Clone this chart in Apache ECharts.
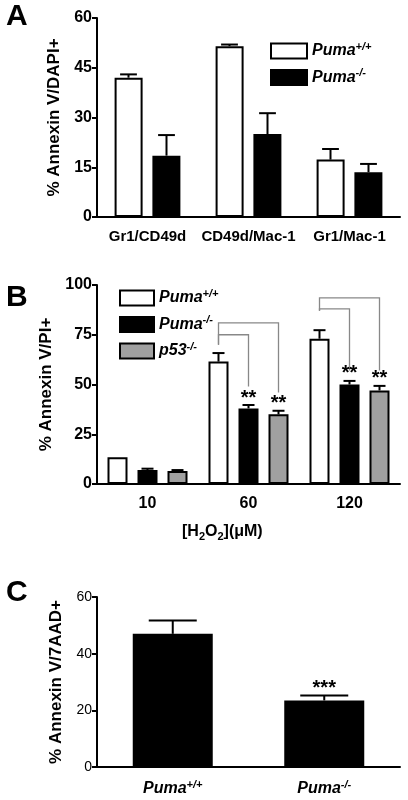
<!DOCTYPE html><html><head><meta charset="utf-8"><script src="https://cdn.jsdelivr.net/npm/echarts@6/dist/echarts.min.js"></script>
<style>body{margin:0;background:#fff}#c{width:408px;height:800px}</style></head><body><div id="c"></div><script>
const catsA=['Gr1/CD49d','CD49d/Mac-1','Gr1/Mac-1'];
const aWT=[42,51.5,17.3], aWTerr=[1,0.5,3.2];
const aKO=[18.5,25,13.5], aKOerr=[6.2,6.3,2.5];
const catsB=['10','60','120'];
const bWT=[13.5,61.5,73], bWTerr=[0,4.3,4.3];
const bKO=[7,38,50], bKOerr=[0.7,1.7,1.8];
const bP53=[6.5,35,47], bP53err=[0.5,1.8,2.3];
const bKOsig=['','**','**'], bP53sig=['','**','**'];
const brGroup=[1,1,2,2], brTo=[2,1,2,1], brLevel=[81,75,93.5,88], brLeftY=[70,70,87,87], brRightY=[46,49,57,57];
const catsC=['Puma+/+','Puma-/-'];
const cVals=[47,23.5], cErr=[4.7,1.7], cSig=['','***'];

const F='Liberation Sans';
const rich={i:{fontStyle:'italic',fontWeight:'bold',fontSize:16,fontFamily:F,color:'#000'},s:{fontStyle:'italic',fontWeight:'bold',fontSize:11,fontFamily:F,verticalAlign:'top',padding:[0,0,9,0],color:'#000'}};
function lab(name){const m=name.match(/^(Puma|p53)(.*)$/);return m?'{i|'+m[1]+'}{s|'+m[2]+'}':name;}
function errSeries(grid,vals,errs,idx,n,bw,gap,sig){
  return {type:'custom',xAxisIndex:grid,yAxisIndex:grid,z:5,
    data:vals.map((v,i)=>[i,v,errs[i]]),
    renderItem:(p,api)=>{const i=api.value(0),v=api.value(1),e=api.value(2),s=sig?sig[i]:'';
      const c=api.coord([i,v]);const x=c[0]+(idx-(n-1)/2)*(bw+gap);const t=api.coord([i,v+e])[1];
      const ch=[];if(e>0){ch.push({type:'line',shape:{x1:x,y1:c[1],x2:x,y2:t},style:{stroke:'#000',lineWidth:2}});
      ch.push({type:'line',shape:{x1:x-bw*0.3,y1:t,x2:x+bw*0.3,y2:t},style:{stroke:'#000',lineWidth:2}});}
      if(s)ch.push({type:'text',style:{text:s,x:x,y:t+3,align:'center',verticalAlign:'bottom',font:'bold 20px '+F,fill:'#000'}});
      return {type:'group',children:ch};}};
}
function yAx(grid,max,intv,name,gapN,bold){return {gridIndex:grid,type:'value',min:0,max:max,interval:intv,name:name,nameLocation:'middle',nameGap:gapN,nameRotate:90,
  nameTextStyle:{fontFamily:F,fontWeight:'bold',fontSize:17,color:'#000'},splitLine:{show:false},
  axisLine:{show:true,lineStyle:{color:'#000',width:2}},axisTick:{show:true,length:5,lineStyle:{color:'#000',width:2}},
  axisLabel:{fontFamily:F,fontWeight:bold?'bold':'normal',fontSize:bold?16:14,color:'#000',margin:5}};}
function xAx(grid,cats,fmt){return {gridIndex:grid,type:'category',data:cats,axisLine:{lineStyle:{color:'#000',width:2}},axisTick:{show:false},
  axisLabel:{fontFamily:F,fontWeight:'bold',fontSize:grid===0?15:16,color:'#000',margin:12,interval:0,formatter:fmt,rich:rich}};}
const bar=(grid,name,data,color,bw,gap)=>({type:'bar',name:name,xAxisIndex:grid,yAxisIndex:grid,data:data,barWidth:bw,barGap:gap,
  itemStyle:{color:color,borderColor:'#000',borderWidth:2}});
const bracket={type:'custom',xAxisIndex:1,yAxisIndex:1,z:4,data:brGroup.map((g,i)=>[g,brLevel[i],brTo[i],brLeftY[i],brRightY[i]]),
  renderItem:(p,api)=>{const g=api.value(0),L=api.value(1),to=api.value(2),ly=api.value(3),ry=api.value(4);
    const xc=api.coord([g,0])[0];const xl=xc-30,xr=xc+(to-1)*30;const yl=api.coord([g,L])[1];
    return {type:'polyline',shape:{points:[[xl,api.coord([g,ly])[1]],[xl,yl],[xr,yl],[xr,api.coord([g,ry])[1]]]},style:{stroke:'#888',lineWidth:1.3,fill:null}};}};
const chart=echarts.init(document.getElementById('c'));
chart.setOption({animation:false,
 grid:[{left:97,top:18,width:303,height:199},{left:97,top:285,width:303,height:199},{left:97,top:597,width:303,height:170}],
 xAxis:[xAx(0,catsA),xAx(1,catsB),xAx(2,catsC,v=>lab(v))],
 yAxis:[yAx(0,60,15,'% Annexin V/DAPI+',34,true),yAx(1,100,25,'% Annexin V/PI+',40,true),yAx(2,60,20,'% Annexin V/7AAD+',32,false)],
 legend:[{left:265,top:36,orient:'vertical',icon:'rect',itemWidth:36,itemHeight:15,itemGap:8,data:['A1','A2'],formatter:n=>n==='A1'?lab('Puma+/+'):lab('Puma-/-'),textStyle:{rich:rich}},
   {left:114,top:283,orient:'vertical',icon:'rect',itemWidth:34,itemHeight:15,itemGap:8,data:['B1','B2','B3'],formatter:n=>({B1:lab('Puma+/+'),B2:lab('Puma-/-'),B3:lab('p53-/-')})[n],textStyle:{rich:rich}}],
 graphic:[{type:'text',left:6,top:2,style:{text:'A',font:'bold 30px '+F,fill:'#000'}},
  {type:'text',left:6,top:283,style:{text:'B',font:'bold 30px '+F,fill:'#000'}},
  {type:'text',left:6,top:578,style:{text:'C',font:'bold 30px '+F,fill:'#000'}},
  {type:'text',left:182,top:524,style:{rich:{a:{font:'bold 16px '+F},b:{font:'bold 11px '+F,verticalAlign:'bottom',padding:[9,0,0,0]}},text:'{a|[H}{b|2}{a|O}{b|2}{a|](μM)}',fill:'#000'}}],
 series:[bar(0,'A1',aWT,'#fff',28,'35%'),bar(0,'A2',aKO,'#000',28,'35%'),
  errSeries(0,aWT,aWTerr,0,2,28,10),errSeries(0,aKO,aKOerr,1,2,28,10),
  bar(1,'B1',bWT,'#fff',20,'50%'),bar(1,'B2',bKO,'#000',20,'50%'),bar(1,'B3',bP53,'#a0a0a0',20,'50%'),
  errSeries(1,bWT,bWTerr,0,3,20,10),errSeries(1,bKO,bKOerr,1,3,20,10,bKOsig),errSeries(1,bP53,bP53err,2,3,20,10,bP53sig),
  bracket,
  {type:'bar',xAxisIndex:2,yAxisIndex:2,data:cVals,barWidth:80,itemStyle:{color:'#000'}},
  errSeries(2,cVals,cErr,0,1,80,0,cSig)]
});
</script></body></html>
